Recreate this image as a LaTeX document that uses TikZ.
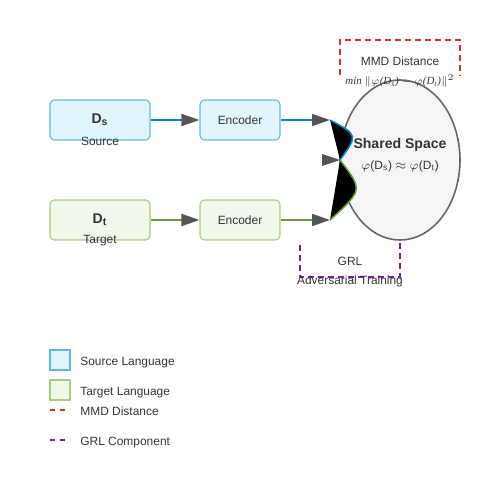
\documentclass[tikz,border=0pt]{standalone}
\usepackage{fontspec}
\setmainfont{Liberation Sans}
\newfontfamily\mathserif{Liberation Serif}
\usepackage{tikz}
\definecolor{ink}{HTML}{333333}
\definecolor{srcfill}{HTML}{E1F5FE}
\definecolor{srcedge}{HTML}{64B5E8}
\definecolor{srcline}{HTML}{0288D1}
\definecolor{tgtfill}{HTML}{F1F8E9}
\definecolor{tgtedge}{HTML}{A5CC82}
\definecolor{tgtline}{HTML}{689F38}
\definecolor{tipgrey}{HTML}{555555}
\definecolor{spacefill}{HTML}{F5F5F5}
\definecolor{spaceedge}{HTML}{666666}
\definecolor{mmdred}{HTML}{D32F2F}
\definecolor{grlpurple}{HTML}{7B1FA2}
\usetikzlibrary{
  arrows.meta,
  positioning,
  calc,
  shapes.geometric
}
\tikzset{
  every node/.style={font=\fontsize{6.8pt}{8pt}\selectfont, text=ink},
  srcbox/.style={
    draw=srcedge,
    fill=srcfill,
    rounded corners=2.5pt,
    line width=0.6pt,
    minimum width=2cm,
    minimum height=8mm,
    inner sep=0pt
  },
  tgtbox/.style={srcbox, draw=tgtedge, fill=tgtfill},
  encbox/.style={srcbox, minimum width=1.6cm},
  flow/.style={line width=0.9pt, -{Triangle[length=3.6mm, width=2.4mm, color=tipgrey]}},
  mergecurve/.style={line width=0.9pt, fill=black},
  mmd/.style={draw=mmdred, line width=0.9pt, dash pattern=on 1.2mm off 0.8mm},
  grl/.style={draw=grlpurple, line width=0.9pt, dash pattern=on 1.2mm off 0.8mm},
  keydash/.style={line width=0.9pt, dash pattern=on 1mm off 1mm},
  legendsq/.style={draw, line width=0.6pt, minimum size=4mm, inner sep=0pt},
  annot/.style={anchor=base west, inner sep=0pt}
}

\begin{document}
\begin{tikzpicture}[x=0.02cm, y=-0.02cm]
  \useasboundingbox (0,0) rectangle (500,500);

  % Source branch
  \node[srcbox] (src) at (100,120) {};
  \node at (100,120) {\bfseries\fontsize{8pt}{9pt}\selectfont D\textsubscript{s}};
  \node at (100,141) {Source};
  \node[encbox, draw=srcedge, fill=srcfill] (encS) at (240,120) {Encoder};

  % Target branch
  \node[tgtbox] (tgt) at (100,220) {};
  \node at (100,220) {\bfseries\fontsize{8pt}{9pt}\selectfont D\textsubscript{t}};
  \node at (100,241) {Target};
  \node[encbox, draw=tgtedge, fill=tgtfill] (encT) at (240,220) {Encoder};

  % Shared space
  \node[draw=spaceedge, fill=spacefill, ellipse, line width=0.9pt,
        minimum width=2.4cm, minimum height=3.2cm, inner sep=0pt] (shared) at (400,160) {};
  \node at (400,145) {\bfseries\fontsize{8pt}{9pt}\selectfont Shared Space};
  \node at (400,166) {$\varphi$(D\textsubscript{s}) $\approx$ $\varphi$(D\textsubscript{t})};

  % Connectors
  \coordinate (joinS) at (330,120);
  \coordinate (joinT) at (330,220);
  \coordinate (meet) at (340,160);
  \draw[flow, srcline] (src.east) -- (encS.west);
  \draw[flow, tgtline] (tgt.east) -- (encT.west);
  \draw[flow, srcline] (encS.east) -- (joinS);
  \draw[flow, tgtline] (encT.east) -- (joinT);
  \draw[mergecurve, draw=srcline] (joinS) .. controls (358,135) .. (meet);
  \draw[mergecurve, draw=tgtline] (joinT) .. controls (363,190) .. (meet);
  \fill[tipgrey] (meet) -- ++(-18,-6) -- ++(0,12) -- cycle;

  % MMD term
  \draw[mmd] (340,75) -- (340,40) -- (460,40) -- (460,75);
  \node at (400,61) {MMD Distance};
  \node at (400,81) {\mathserif\itshape\fontsize{6.2pt}{7pt}\selectfont min $\|\varphi$(D\textsubscript{s}) $-$ $\varphi$(D\textsubscript{t})$\|^2$};

  % GRL block
  \draw[grl] (300,245) -- (300,277) -- (400,277) -- (400,240);
  \node at (350,261) {GRL};
  \node at (350,281) {Adversarial Training};

  % Legend
  \node[legendsq, draw=srcedge, fill=srcfill] (legS) at (60,360) {};
  \node[annot] at (80,365) {Source Language};
  \node[legendsq, draw=tgtedge, fill=tgtfill] (legT) at (60,390) {};
  \node[annot] at (80,395) {Target Language};
  \draw[keydash, mmdred] (50,410) -- (70,410);
  \node[annot] at (80,415) {MMD Distance};
  \draw[keydash, grlpurple] (50,440) -- (70,440);
  \node[annot] at (80,445) {GRL Component};
\end{tikzpicture}
\end{document}
